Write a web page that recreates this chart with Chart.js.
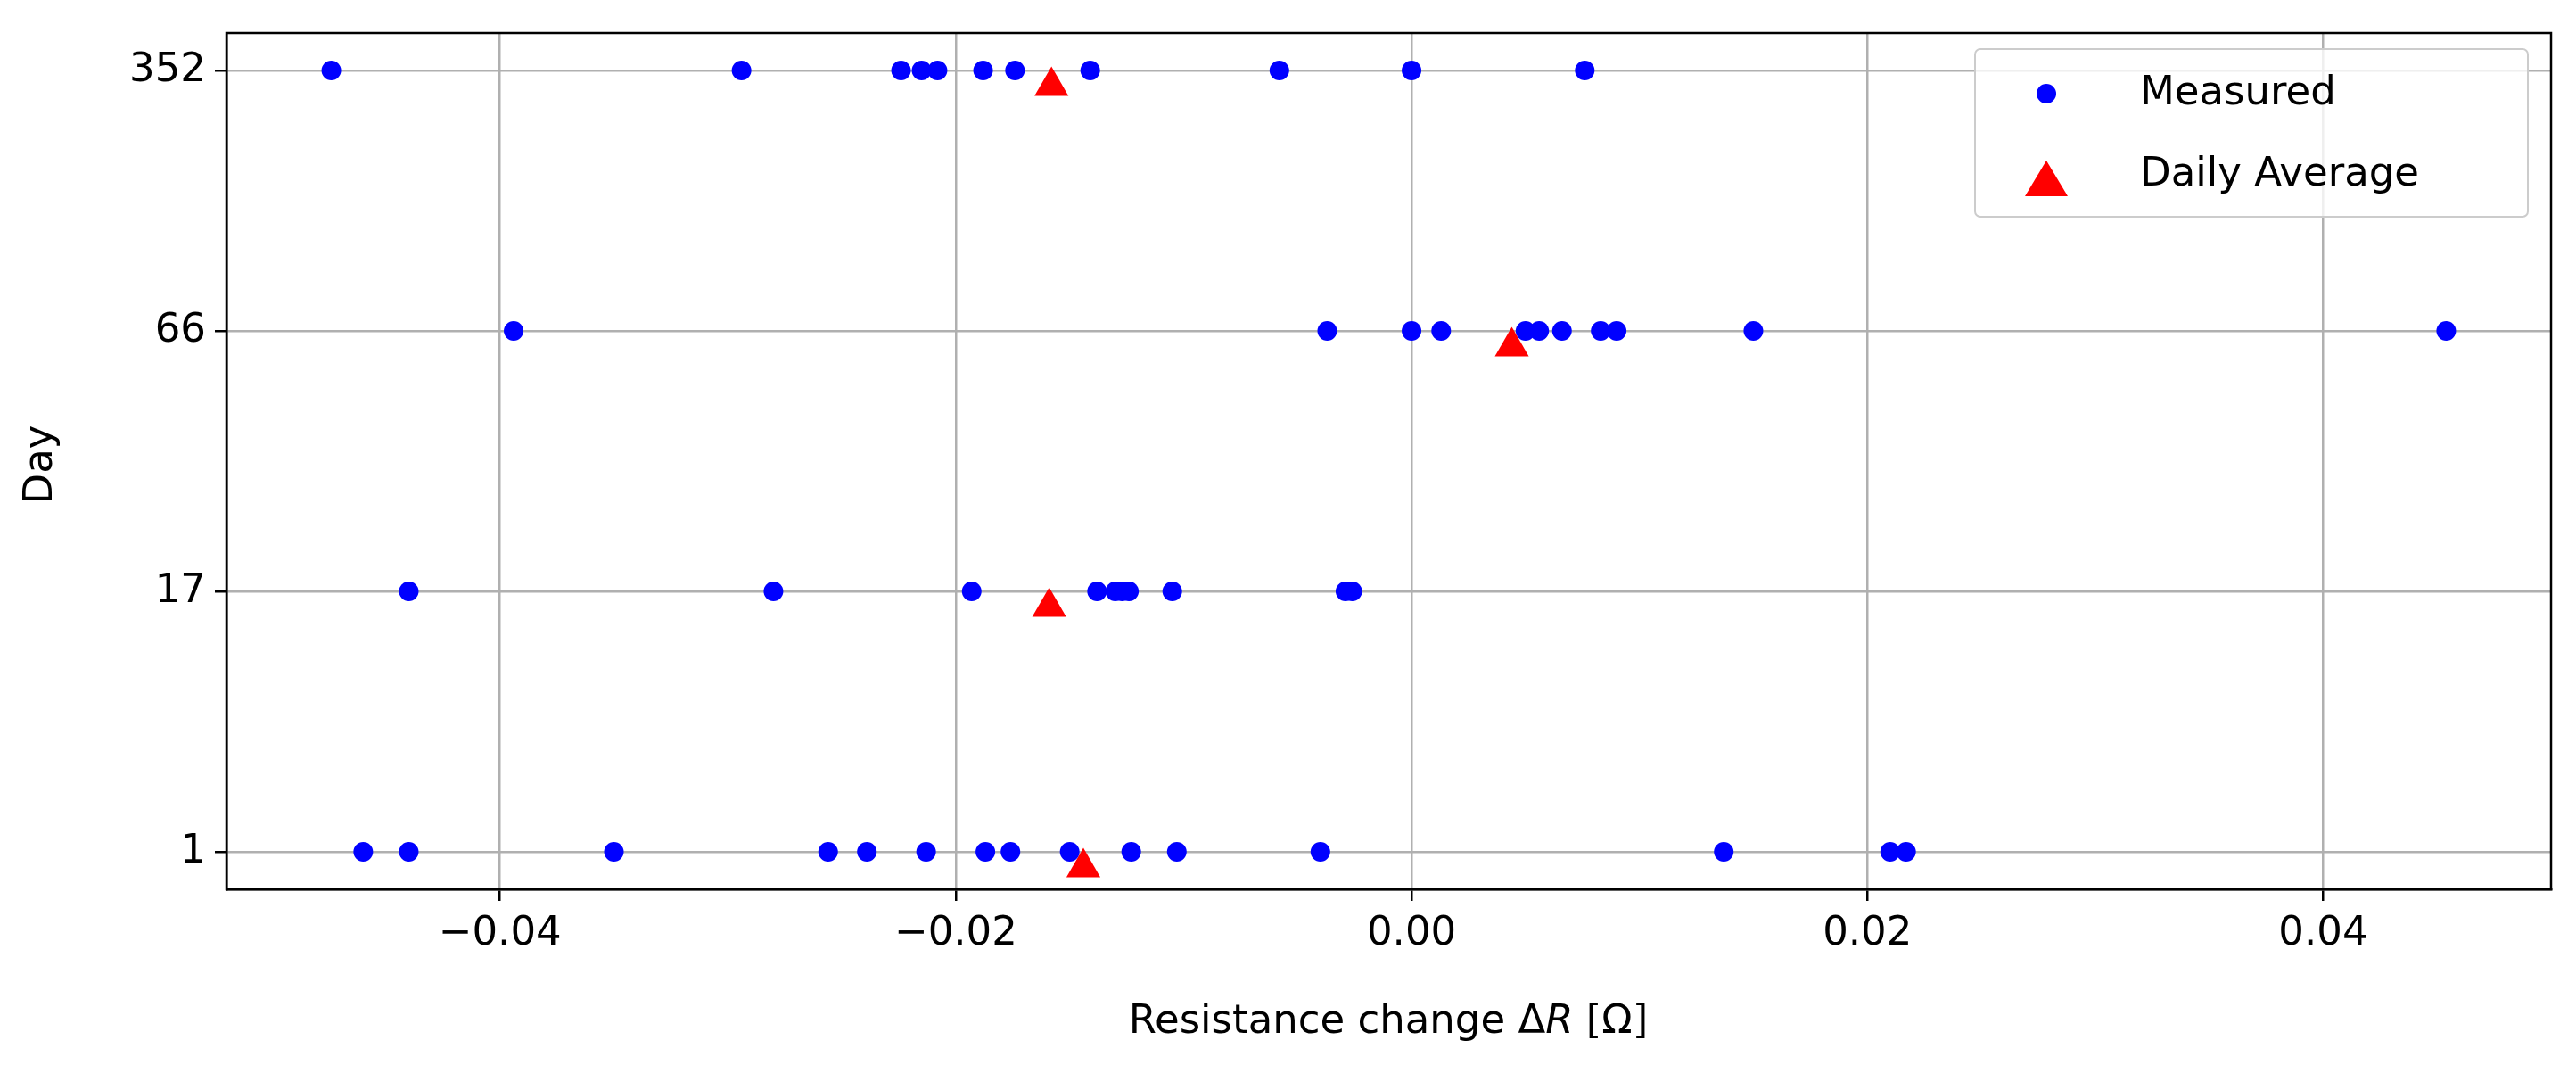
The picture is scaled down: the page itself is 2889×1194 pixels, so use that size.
<!DOCTYPE html>
<html><head><meta charset="utf-8">
<script src="https://cdn.jsdelivr.net/npm/chart.js@4"></script>
<style>html,body{margin:0;background:#fff}#c{display:block}</style></head>
<body><canvas id="c" width="2889" height="1194"></canvas>
<script>
const dayLabels = ['1','17','66','352'];
const day1 = [-0.046,-0.044,-0.035,-0.0256,-0.0239,-0.0213,-0.0187,-0.0176,-0.015,-0.0123,-0.0103,-0.004,0.0137,0.021,0.0217];
const day17 = [-0.044,-0.028,-0.0193,-0.0138,-0.013,-0.0127,-0.0124,-0.0105,-0.0029,-0.0026];
const day66 = [-0.0394,-0.0037,0,0.0013,0.005,0.0056,0.0066,0.0083,0.009,0.015,0.0454];
const day352 = [-0.0474,-0.0294,-0.0224,-0.0215,-0.0208,-0.0188,-0.0174,-0.0141,-0.0058,0,0.0076];
const averages = [-0.0144,-0.0159,0.0044,-0.0158];
const xTicks = [-0.04,-0.02,0,0.02,0.04];

const groups=[day1,day17,day66,day352];
const measured=[];groups.forEach((g,i)=>g.forEach(v=>measured.push({x:v,y:i})));
const avg=averages.map((v,i)=>({x:v,y:i-0.06}));
const F='"DejaVu Sans"';
const FS=45;
const labelPlugin={id:'lbl',afterDraw(ch){
  const c=ch.ctx;c.save();c.fillStyle='#000';
  c.textBaseline='middle';
  const a='Resistance change \u0394',b='R',d=' [\u03a9]';
  c.font=FS+'px '+F;const wa=c.measureText(a).width,wd=c.measureText(d).width;
  c.font='italic '+FS+'px '+F;const wb=c.measureText(b).width;
  let x=1557-(wa+wb+wd)/2,y=1146;
  c.textAlign='left';c.font=FS+'px '+F;c.fillText(a,x,y);x+=wa;
  c.font='italic '+FS+'px '+F;c.fillText(b,x,y);x+=wb;
  c.font=FS+'px '+F;c.fillText(d,x,y);
  c.translate(46,521);c.rotate(-Math.PI/2);c.textAlign='center';c.fillText('Day',0,0);c.restore();
  c.save();
  const lx=2215,ly=55,lw=620,lh=188;
  c.fillStyle='rgba(255,255,255,0.8)';c.strokeStyle='#cccccc';c.lineWidth=2;
  c.beginPath();c.roundRect(lx,ly,lw,lh,6);c.fill();c.stroke();
  c.fillStyle='#0000ff';c.beginPath();c.arc(2295,105,11,0,2*Math.PI);c.fill();
  c.fillStyle='#ff0000';c.beginPath();c.moveTo(2295,180);c.lineTo(2319,220);c.lineTo(2271,220);c.closePath();c.fill();
  c.fillStyle='#000';c.font=FS+'px '+F;c.textBaseline='middle';c.textAlign='left';
  c.fillText('Measured',2400,105);c.fillText('Daily Average',2400,196);
  c.restore();
}};
new Chart(document.getElementById('c'),{
  type:'scatter',
  data:{datasets:[
    {label:'Measured',data:measured,pointStyle:'circle',pointRadius:11,backgroundColor:'#0000ff',borderWidth:0,pointHoverRadius:11},
    {label:'Daily Average',data:avg,pointStyle:'triangle',pointRadius:22,backgroundColor:'#ff0000',borderColor:'#ff0000',borderWidth:0}
  ]},
  options:{responsive:false,animation:false,devicePixelRatio:1,
    layout:{padding:{top:28,right:28,left:0,bottom:0}},
    plugins:{legend:{display:false},tooltip:{enabled:false}},
    scales:{
      x:{type:'linear',min:-0.052,max:0.05,
        afterBuildTicks(s){s.ticks=xTicks.map(v=>({value:v}));},
        afterFit(s){s.height=197;},
        ticks:{font:{family:F,size:FS},color:'#000',padding:10,
          callback:v=>(v<0?'\u2212':'')+Math.abs(v).toFixed(2)},
        grid:{color:'#b0b0b0',lineWidth:2.5,tickColor:'#000',tickLength:13},
        border:{color:'#000',width:2.5}},
      y:{type:'linear',min:-0.144,max:3.144,
        afterBuildTicks(s){s.ticks=[0,1,2,3].map(v=>({value:v}));},
        afterFit(s){s.width=254;},
        ticks:{font:{family:F,size:FS},color:'#000',padding:10,callback:v=>dayLabels[v]},
        grid:{color:'#b0b0b0',lineWidth:2.5,tickColor:'#000',tickLength:13},
        border:{color:'#000',width:2.5}}
    }
  },
  plugins:[labelPlugin,{id:'frame',afterDraw(ch){const a=ch.chartArea,c=ch.ctx;c.save();c.strokeStyle='#000';c.lineWidth=2.5;c.strokeRect(a.left,a.top,a.right-a.left,a.bottom-a.top);c.restore();}}]
});
</script></body></html>
